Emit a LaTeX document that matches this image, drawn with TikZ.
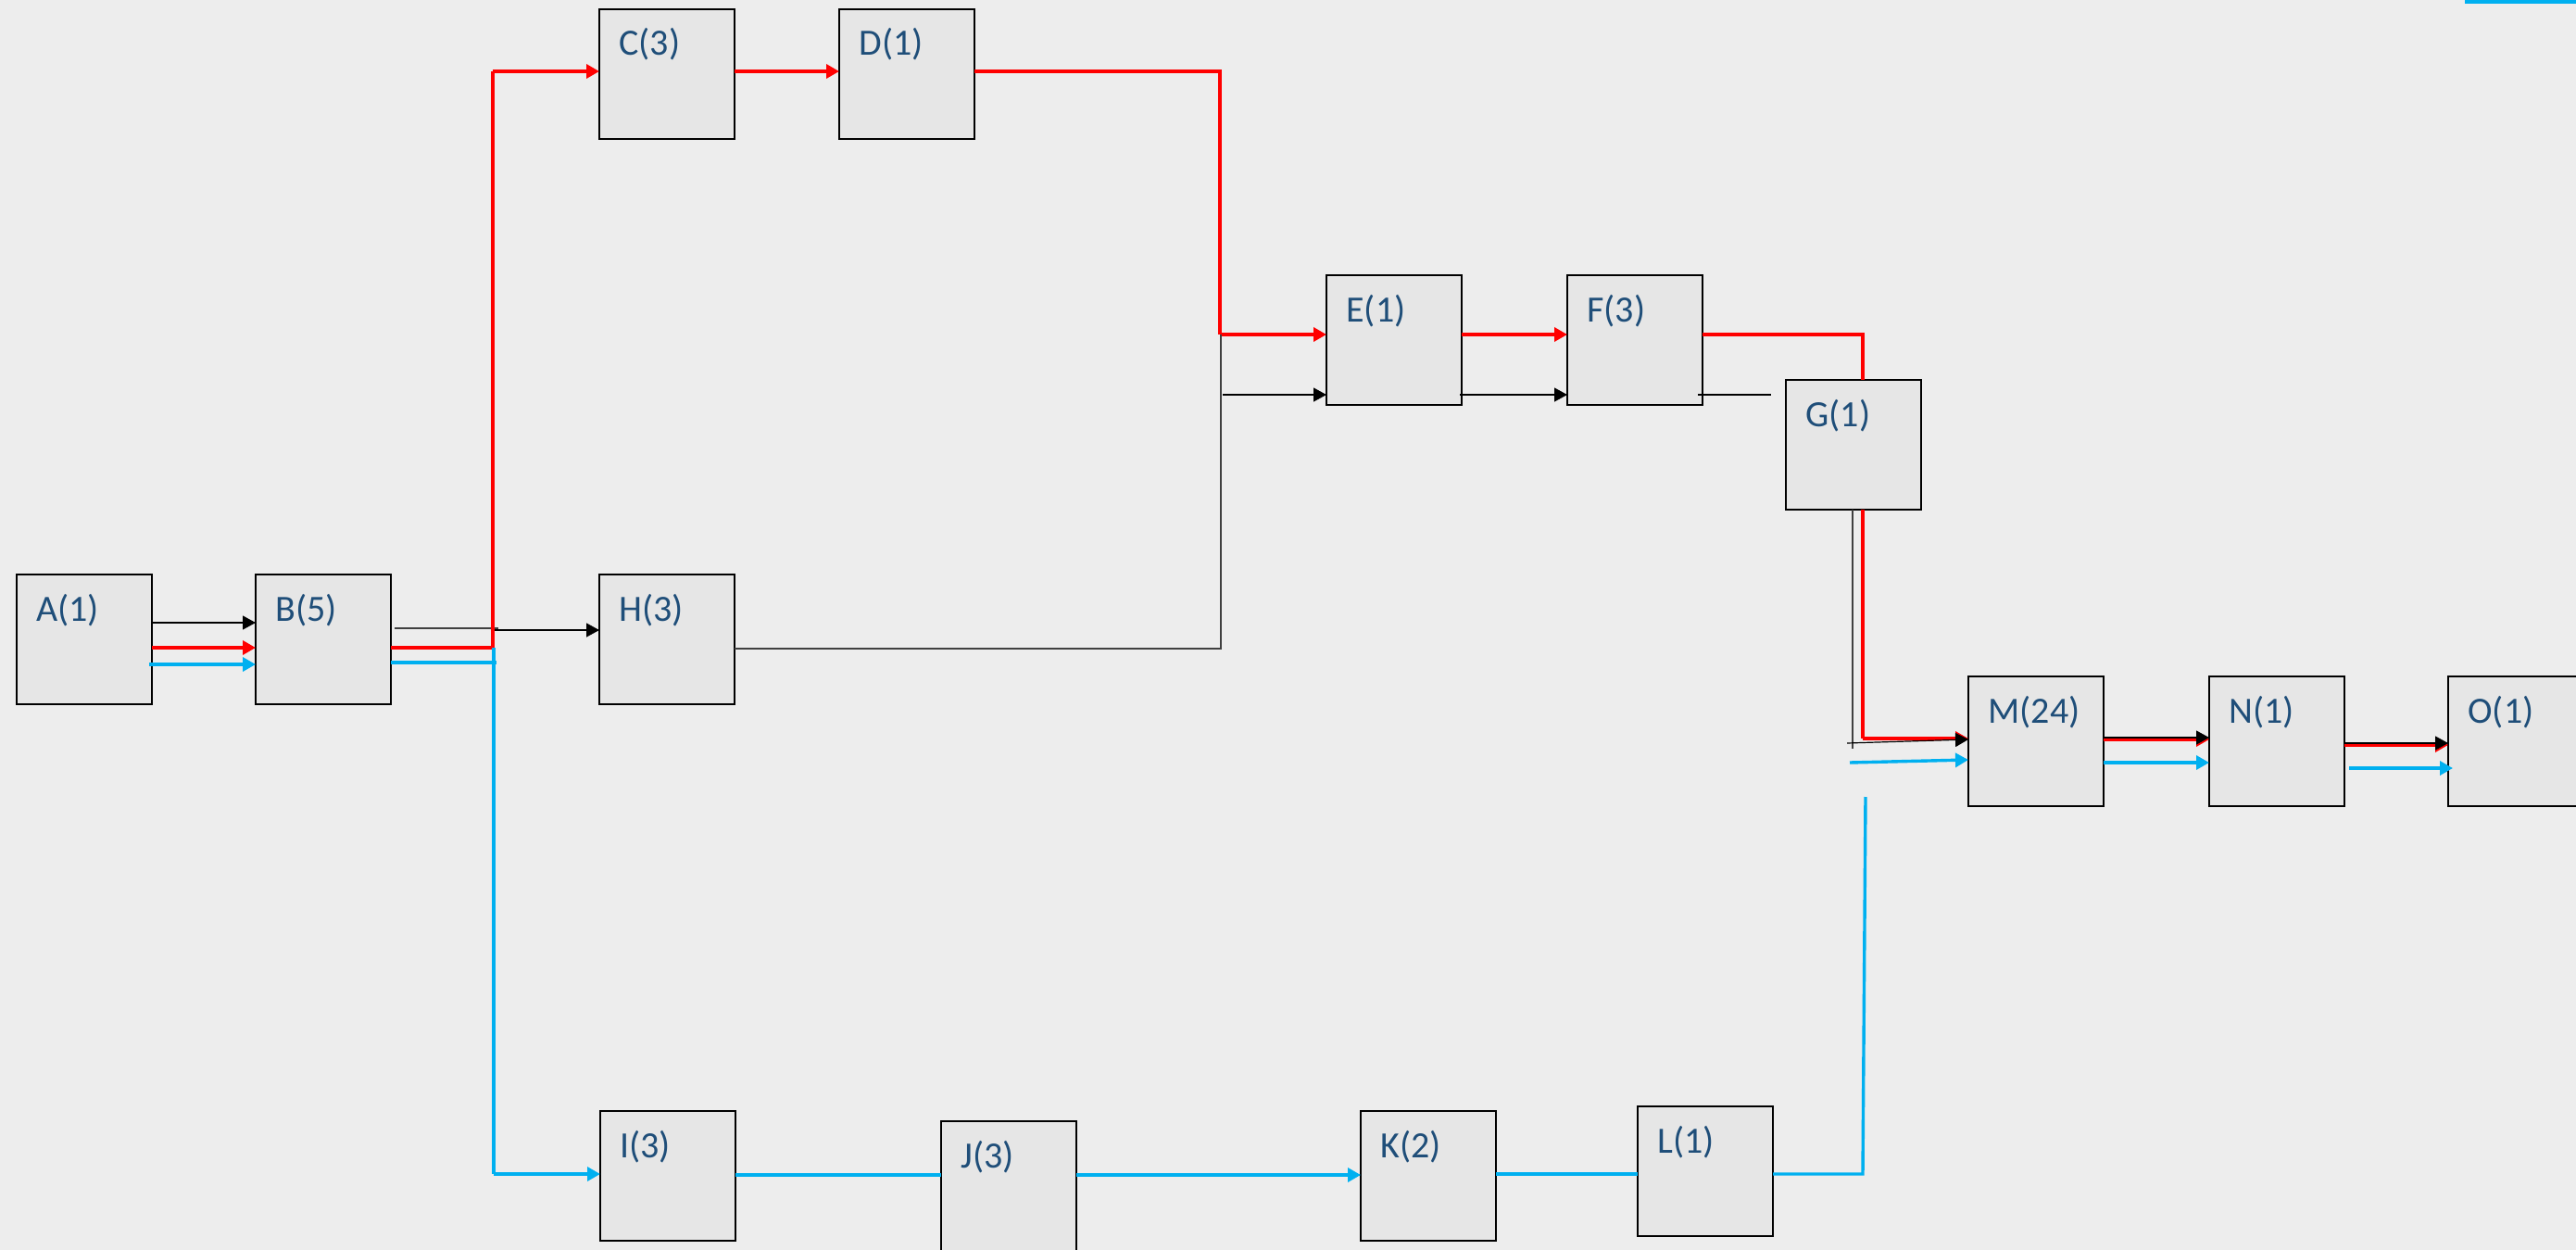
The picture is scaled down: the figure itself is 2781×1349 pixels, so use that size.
\documentclass[tikz,border=0pt]{standalone}
\usepackage{fontspec}
\setmainfont{Carlito}
\usetikzlibrary{arrows.meta,calc}
\definecolor{bg}{HTML}{EDEDED}
\definecolor{boxfill}{HTML}{E6E6E6}
\definecolor{lbl}{HTML}{1F4E79}
\definecolor{redl}{HTML}{FF0000}
\definecolor{bluel}{HTML}{00B0F0}
\definecolor{grayl}{HTML}{404040}
\newcommand{\mytask}[4]{%
  \node[taskbox] (#1) at (#2,#3) {};
  \node[lab] (#1lab) at ($(#1.north west)+(21,50)$) {#4};}
\begin{document}
\begin{tikzpicture}[x=0.5pt,y=-0.5pt,
  taskbox/.style={draw=black, line width=1.1pt, fill=boxfill, minimum width=73pt, minimum height=70pt, inner sep=0pt, outer sep=0pt},
  redpath/.style={draw=redl, line width=1.7pt},
  bluepath/.style={draw=bluel, line width=1.7pt},
  thinpath/.style={draw=black, line width=0.6pt},
  graypath/.style={draw=grayl, line width=0.7pt},
  tip/.style={-{Triangle[length=7pt,width=7.5pt]}},
  lab/.style={font=\fontsize{20}{24}\selectfont, text=lbl, anchor=base west, inner sep=0pt}]
\useasboundingbox (0,0) rectangle (2781,1349);
\fill[bg] (0,0) rectangle (2781,1349);
\clip (0,0) rectangle (2781,1349);

% boxes
\mytask{A}{91}{690}{A(1)}
\mytask{B}{349}{690}{B(5)}
\mytask{C}{720}{80}{C(3)}
\mytask{D}{979}{80}{D(1)}
\mytask{H}{720}{690}{H(3)}
\mytask{E}{1505}{367}{E(1)}
\mytask{F}{1765}{367}{F(3)}
\mytask{G}{2001}{480}{G(1)}
\mytask{M}{2198}{800}{M(24)}
\mytask{N}{2458}{800}{N(1)}
\mytask{O}{2716}{800}{O(1)}
\mytask{I}{721}{1269}{I(3)}
\mytask{J}{1089}{1280}{J(3)}
\mytask{K}{1542}{1269}{K(2)}
\mytask{L}{1841}{1264}{L(1)}

% free-end coordinates
\coordinate (rB) at (532,699);
\coordinate (rC) at (532,77);
\coordinate (rD) at (1317,77);
\coordinate (rE) at (1317,361);
\coordinate (gH) at (1318,700);
\coordinate (gE) at (1318,361);
\coordinate (rF) at (2011,361);
\coordinate (rG) at (2011,797);
\coordinate (bL) at (2011,1267);
\coordinate (bLtop) at (2014,860);
\coordinate (bB) at (533,715);
\coordinate (bI) at (533,1267);

% A -> B
\draw[thinpath,tip] (A.east |- 0,672) -- (B.west |- 0,672);
\draw[redpath,tip] (A.east |- 0,699) -- (B.west |- 0,699);
\draw[bluepath,tip] (161,717) -- (B.west |- 0,717);

% B -> H
\draw[graypath] ($(B.east |- 0,678)+(4,0)$) -- (538,678);
\draw[thinpath,tip] (533,680) -- (H.west |- 0,680);

% B -> C -> D (red)
\draw[redpath] (B.east |- rB) -- (rB) -- (rC);
\draw[redpath,tip] (rC) -- (C.west |- rC);
\draw[redpath,tip] (C.east |- rC) -- (D.west |- rC);

% D -> E (red)
\draw[redpath] (D.east |- rD) -- (rD) -- (rE);
\draw[redpath,tip] (rE) -- (E.west |- rE);

% H -> E (gray/black)
\draw[graypath] (H.east |- gH) -- (gH) -- (gE);
\draw[thinpath,tip] (1320,426) -- (E.west |- 0,426);

% E -> F
\draw[redpath,tip] (E.east |- 0,361) -- (F.west |- 0,361);
\draw[thinpath,tip] (1576,426) -- (F.west |- 0,426);

% F -> G
\draw[redpath] (F.east |- 0,361) -- (rF) -- (rF |- G.north);
\draw[thinpath] (1833,426) -- (1912,426);

% G -> M
\draw[graypath] (2000,550) -- (2000,808);
\draw[redpath] (rG |- G.south) -- (rG);
\draw[redpath,tip] (rG) -- (M.west |- rG);
\draw[thinpath,tip] (1994,802) -- (M.west |- 0,798);
\draw[bluepath,tip] (1997,823) -- (M.west |- 0,820);

% B -> I (blue)
\draw[bluepath] (B.east |- bB) -- (536,715);
\draw[bluepath] (533,699) -- (bI);
\draw[bluepath,tip] (bI) -- (I.west |- bI);

% I -> J -> K -> L -> M (blue)
\draw[bluepath] (I.east |- 0,1268) -- (J.west |- 0,1268);
\draw[bluepath,tip] (J.east |- 0,1268) -- (K.west |- 0,1268);
\draw[bluepath] (K.east |- 0,1267) -- (L.west |- 0,1267);
\draw[bluepath] (L.east |- bL) -- (bL) -- (bLtop);

% M -> N
\draw[redpath,tip] (M.east |- 0,798) -- (N.west |- 0,798);
\draw[thinpath,tip] (M.east |- 0,796) -- (N.west |- 0,796);
\draw[bluepath,tip] (M.east |- 0,823) -- (N.west |- 0,823);

% N -> O
\draw[redpath,tip] (N.east |- 0,804) -- (O.west |- 0,804);
\draw[thinpath,tip] (N.east |- 0,802) -- (O.west |- 0,802);
\draw[bluepath,tip] (2536,829) -- (2648,829);

% top-right fragment
\draw[bluepath] (2663,-2) -- (2663,2) -- (2790,2);
\end{tikzpicture}
\end{document}
